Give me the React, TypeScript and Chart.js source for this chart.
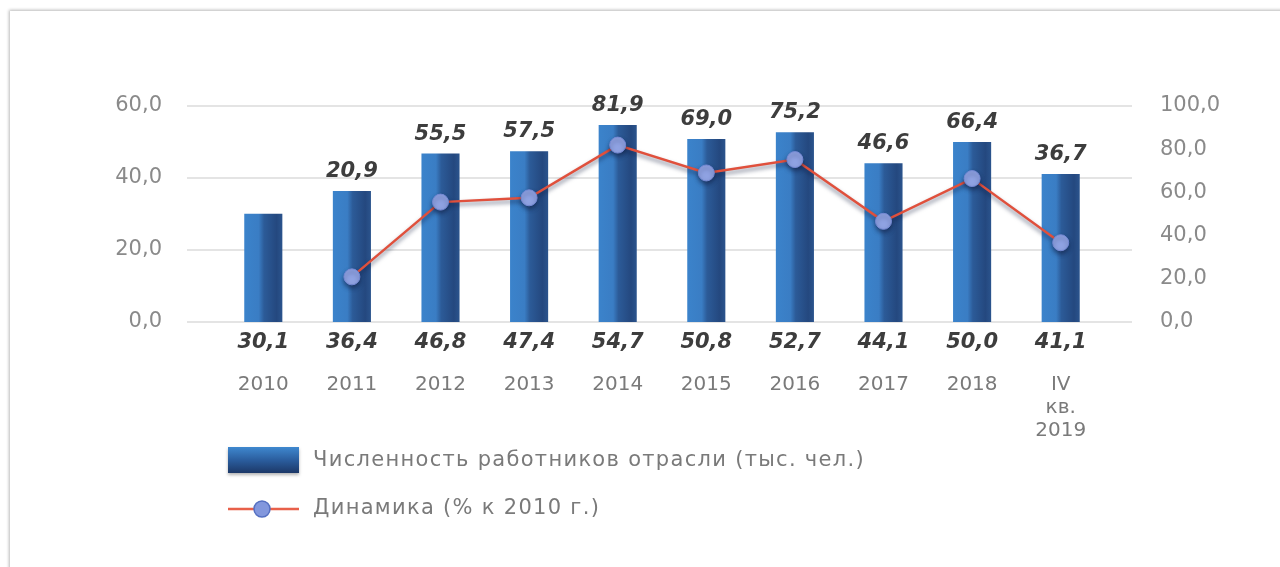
import React, { useEffect, useRef } from "react";
import { Chart, registerables } from "chart.js";

Chart.register(...registerables);

const categories: (string | string[])[] = [
  "2010", "2011", "2012", "2013", "2014", "2015", "2016", "2017", "2018", ["IV", "кв.", "2019"],
];
const workers = [30.1, 36.4, 46.8, 47.4, 54.7, 50.8, 52.7, 44.1, 50.0, 41.1];
const dynamics: (number | null)[] = [null, 20.9, 55.5, 57.5, 81.9, 69.0, 75.2, 46.6, 66.4, 36.7];
const leftTicks = ["0,0", "20,0", "40,0", "60,0"];
const rightTicks = ["0,0", "20,0", "40,0", "60,0", "80,0", "100,0"];
const legendLabels = ["Численность работников отрасли (тыс. чел.)", "Динамика (% к 2010 г.)"];

const FONT = "'DejaVu Sans', sans-serif";
const BAR_FRACTION = 0.43;

const fmt = (v: number) => v.toFixed(1).replace(".", ",");

const customPlugin = {
  id: "custom",
  beforeDatasetsDraw(chart: any) {
    const { ctx, chartArea } = chart;
    const y = chart.scales.y;
    ctx.save();
    ctx.strokeStyle = "#e4e4e4";
    ctx.lineWidth = 2;
    y.ticks.forEach((t: any) => {
      const py = Math.round(y.getPixelForValue(t.value));
      ctx.beginPath();
      ctx.moveTo(chartArea.left - 32, py);
      ctx.lineTo(chartArea.right + 27, py);
      ctx.stroke();
    });
    ctx.restore();
  },
  beforeDatasetDraw(chart: any, args: any) {
    if (args.index === 1) {
      const ctx = chart.ctx;
      ctx.save();
      ctx.shadowColor = "rgba(15,25,60,0.55)";
      ctx.shadowBlur = 4;
      ctx.shadowOffsetY = 3;
    }
  },
  afterDatasetDraw(chart: any, args: any) {
    if (args.index === 1) chart.ctx.restore();
  },
  afterDatasetsDraw(chart: any) {
    const { ctx, chartArea } = chart;
    const xs = chart.scales.x;
    const ys = chart.scales.y;
    ctx.save();
    ctx.textAlign = "center";
    ctx.fillStyle = "#3d3d3d";
    ctx.font = `italic bold 21px ${FONT}`;
    workers.forEach((v, i) => {
      const px = xs.getPixelForValue(i);
      ctx.textBaseline = "middle";
      ctx.fillText(fmt(v), px, chartArea.bottom + 21);
      const d = dynamics[i];
      if (d !== null) {
        ctx.textBaseline = "alphabetic";
        ctx.fillText(fmt(d), px, ys.getPixelForValue(v) - 14);
      }
    });

    // legend
    const L = chartArea.left + 9;
    const B = chartArea.bottom;
    const g = ctx.createLinearGradient(0, B + 125, 0, B + 152);
    g.addColorStop(0, "#3f88cf");
    g.addColorStop(0.5, "#2a5c9c");
    g.addColorStop(1, "#1b3563");
    ctx.save();
    ctx.shadowColor = "rgba(0,0,0,0.3)";
    ctx.shadowBlur = 3;
    ctx.shadowOffsetY = 2;
    ctx.fillStyle = g;
    ctx.fillRect(L, B + 125, 71, 26);
    ctx.restore();

    ctx.strokeStyle = "#e8604a";
    ctx.lineWidth = 2.5;
    ctx.beginPath();
    ctx.moveTo(L, B + 187);
    ctx.lineTo(L + 71, B + 187);
    ctx.stroke();
    ctx.beginPath();
    ctx.arc(L + 34, B + 187, 8, 0, Math.PI * 2);
    ctx.fillStyle = "#8297dd";
    ctx.fill();
    ctx.strokeStyle = "#5570c2";
    ctx.lineWidth = 1.5;
    ctx.stroke();

    ctx.textAlign = "left";
    ctx.textBaseline = "middle";
    ctx.fillStyle = "#7a7a7a";
    ctx.font = `21px ${FONT}`;
    (ctx as any).letterSpacing = "1.3px";
    ctx.fillText(legendLabels[0], L + 85, B + 139);
    ctx.fillText(legendLabels[1], L + 85, B + 187);
    (ctx as any).letterSpacing = "0px";
    ctx.restore();
  },
};

function barGradient(c: any) {
  const chart = c.chart;
  const { chartArea } = chart;
  if (!chartArea || !chart.scales.x) return "#2f62a2";
  const xs = chart.scales.x;
  const w = (xs.width / categories.length) * BAR_FRACTION;
  const px = xs.getPixelForValue(c.dataIndex);
  const g = chart.ctx.createLinearGradient(px - w / 2, 0, px + w / 2, 0);
  g.addColorStop(0, "#3b83cb");
  g.addColorStop(0.38, "#3a7dc4");
  g.addColorStop(0.52, "#2c5b98");
  g.addColorStop(0.85, "#24487f");
  g.addColorStop(1, "#2b548d");
  return g;
}

export default function App() {
  const ref = useRef<HTMLCanvasElement | null>(null);

  useEffect(() => {
    if (!ref.current) return;
    const chart = new Chart(ref.current, {
      type: "bar",
      data: {
        labels: categories as any,
        datasets: [
          {
            type: "bar",
            label: legendLabels[0],
            data: workers,
            yAxisID: "y",
            order: 2,
            backgroundColor: barGradient as any,
            borderWidth: 0,
            categoryPercentage: 1,
            barPercentage: BAR_FRACTION,
          },
          {
            type: "line",
            label: legendLabels[1],
            data: dynamics as any,
            yAxisID: "y1",
            order: 1,
            borderColor: "#e0503c",
            borderWidth: 2.5,
            pointRadius: 8,
            pointBackgroundColor: "#8fa2e2",
            pointBorderColor: "#7489d4",
            pointBorderWidth: 1,
            tension: 0,
          } as any,
        ],
      },
      options: {
        responsive: false,
        animation: false,
        devicePixelRatio: 1,
        layout: { padding: { top: 106, left: 0, right: 0, bottom: 0 } },
        plugins: { legend: { display: false }, tooltip: { enabled: false } },
        scales: {
          x: {
            type: "category",
            offset: true,
            grid: { display: false, drawTicks: false },
            border: { display: false },
            ticks: {
              color: "#7a7a7a",
              font: { family: FONT, size: 20, lineHeight: 1.15 },
              padding: 51,
              maxRotation: 0,
              autoSkip: false,
            },
            afterFit(s: any) {
              s.height = 245;
            },
          },
          y: {
            position: "left",
            min: 0,
            max: 60,
            grid: { display: false, drawTicks: false },
            border: { display: false },
            ticks: {
              stepSize: 20,
              padding: 57,
              color: "#8a8a8a",
              font: { family: FONT, size: 21 },
              callback: (_v: any, i: number) => leftTicks[i],
            },
            afterFit(s: any) {
              s.width = 219;
            },
          },
          y1: {
            position: "right",
            min: 0,
            max: 100,
            grid: { display: false, drawTicks: false },
            border: { display: false },
            ticks: {
              stepSize: 20,
              padding: 55,
              color: "#8a8a8a",
              font: { family: FONT, size: 21 },
              callback: (_v: any, i: number) => rightTicks[i],
            },
            afterFit(s: any) {
              s.width = 175;
            },
          },
        },
      } as any,
      plugins: [customPlugin],
    });
    return () => chart.destroy();
  }, []);

  return (
    <div
      style={{
        position: "fixed",
        left: 0,
        top: 0,
        width: 1280,
        height: 567,
        overflow: "hidden",
        background: "#ffffff",
      }}
    >
      <div
        style={{
          position: "absolute",
          left: 10,
          top: 11,
          width: 1320,
          height: 620,
          background: "#ffffff",
          boxShadow: "0 0 3px 1px rgba(0,0,0,0.28)",
        }}
      />
      <canvas
        ref={ref}
        width={1280}
        height={567}
        style={{ position: "absolute", left: 0, top: 0, width: 1280, height: 567 }}
      />
    </div>
  );
}
